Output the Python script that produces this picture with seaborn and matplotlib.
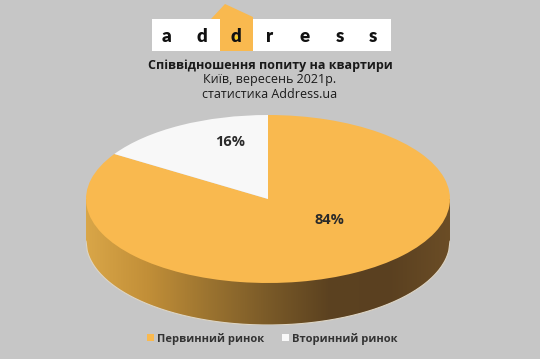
import numpy as np
import matplotlib.pyplot as plt
import seaborn as sns
from matplotlib.colors import LinearSegmentedColormap
from matplotlib.patches import Polygon, Rectangle, Circle

# --- data ---
labels = ['Первинний ринок', 'Вторинний ринок']
shares = [84, 16]
colors = ['#f9b94f', '#f8f8f8']
title = 'Співвідношення попиту на квартири'
subtitle = ['Київ, вересень 2021р.', 'статистика Address.ua']
logo_letters = list('address')

sns.set_theme(style="white")
plt.rcParams['font.family'] = ['Open Sans', 'DejaVu Sans']

bg = '#c6c6c6'
fig = plt.figure(figsize=(5.4, 3.59), dpi=100, facecolor=bg)

# overlay in pixel coords for logo and titles
ov = fig.add_axes([0, 0, 1, 1])
ov.set_xlim(0, 540)
ov.set_ylim(359, 0)
ov.axis('off')

ov.add_patch(Rectangle((152, 19), 239, 32, facecolor='white', edgecolor='none'))
ov.add_patch(Polygon([(220, 51), (220, 19), (211, 19), (225, 4), (253, 17), (253, 51)],
                     closed=True, facecolor='#f9b94f', edgecolor='none'))
letter_x = [167, 202, 236, 270, 305, 340, 373]
for lx, ch in zip(letter_x, logo_letters):
    ov.text(lx, 36, ch, ha='center', va='center', fontsize=13.5, fontweight='heavy',
            family=['Lato', 'DejaVu Sans'], color='#111111')
ov.add_patch(Circle((236.5, 37.5), 1.6, facecolor='#f2d21c', edgecolor='none', zorder=5))

ov.text(270, 66, title, ha='center', va='center', fontsize=9, fontweight='bold', color='#1a1a1a')
ov.text(270, 80, subtitle[0], ha='center', va='center', fontsize=9, color='#1a1a1a')
ov.text(270, 95, subtitle[1], ha='center', va='center', fontsize=9, color='#1a1a1a')

# --- 3D-like pie ---
ax = fig.add_axes([86 / 540, 1 - 325 / 359, 364 / 540, 210 / 359])
ax.set_facecolor('none')
depth = 0.5

t = np.linspace(-1, 1, 300)
xs = np.concatenate([t, t[::-1]])
ys = np.concatenate([-np.sqrt(1 - t ** 2) - depth, np.zeros_like(t)])
side = Polygon(np.column_stack([xs, ys]), closed=True, facecolor='none', edgecolor='none')
ax.add_patch(side)
side_cmap = LinearSegmentedColormap.from_list(
    'side', ['#d9a648', '#c28f38', '#9c7430', '#7a5a28', '#5c4220', '#5a4020', '#6b4d26'])
grad = np.linspace(0, 1, 256)[None, :]
im = ax.imshow(grad, extent=[-1, 1, -1 - depth, 0], cmap=side_cmap, aspect='auto', zorder=0)
im.set_clip_path(side)
ax.plot(t, -np.sqrt(1 - t ** 2) - depth, color='#ddd5c5', lw=0.8, zorder=0.5)

wedges, texts, autotexts = ax.pie(shares, colors=colors, startangle=90, counterclock=False,
                                  autopct='%d%%', pctdistance=0.6,
                                  wedgeprops=dict(linewidth=0))
for at in autotexts:
    at.set_fontsize(10.5)
    at.set_fontweight('bold')
    at.set_color('#2a2a2a')
autotexts[0].set_position((0.34, -0.25))
autotexts[1].set_position((-0.21, 0.68))

ax.set_aspect('auto')
ax.set_xlim(-1, 1)
ax.set_ylim(-1 - depth, 1)
ax.axis('off')

leg = fig.legend(wedges, labels, loc='lower center', ncol=2, frameon=False,
                 bbox_to_anchor=(0.505, 0.012), handlelength=0.6, handleheight=0.6,
                 handletextpad=0.3, columnspacing=1.6, fontsize=8)
for txt in leg.get_texts():
    txt.set_fontweight('bold')
    txt.set_color('#333333')

fig.savefig('out.png', dpi=100, facecolor=bg)
